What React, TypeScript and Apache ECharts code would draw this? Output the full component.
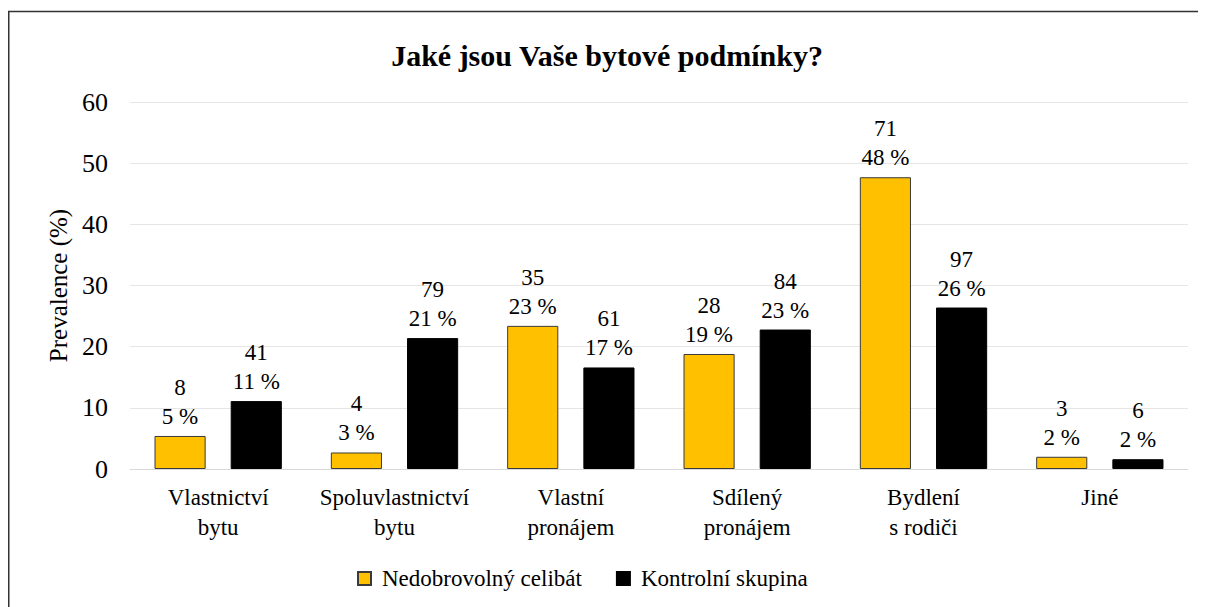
import React, { useEffect, useRef } from "react";
import * as echarts from "echarts";

const categories = [
  "Vlastnictví\nbytu",
  "Spoluvlastnictví\nbytu",
  "Vlastní\npronájem",
  "Sdílený\npronájem",
  "Bydlení\ns rodiči",
  "Jiné",
];
const seriesNames = ["Nedobrovolný celibát", "Kontrolní skupina"];
const celibatPct = [5.4, 2.7, 23.4, 18.8, 47.7, 2.0];
const celibatCount = [8, 4, 35, 28, 71, 3];
const kontrolPct = [11.1, 21.4, 16.6, 22.8, 26.4, 1.6];
const kontrolCount = [41, 79, 61, 84, 97, 6];
const yTicks = { min: 0, max: 60, interval: 10 };

const FONT = "Liberation Serif";

export default function App() {
  const ref = useRef<HTMLDivElement>(null);
  useEffect(() => {
    if (!ref.current) return;
    const chart = echarts.init(ref.current, null, { renderer: "svg" });
    const labelFor = (counts: number[]) => ({
      show: true,
      position: "top",
      distance: 5,
      color: "#000",
      fontFamily: FONT,
      fontSize: 23,
      lineHeight: 29,
      formatter: (p: any) => `${counts[p.dataIndex]}\n${Math.round(p.value)} %`,
    });
    chart.setOption({
      animation: false,
      textStyle: { fontFamily: FONT },
      title: {
        text: "Jaké jsou Vaše bytové podmínky?",
        left: "center",
        top: 27,
        textStyle: { fontFamily: FONT, fontSize: 30, fontWeight: "bold", color: "#000" },
      },
      graphic: [
        { type: "line", shape: { x1: 0, y1: 3.5, x2: 1198, y2: 3.5 }, style: { stroke: "#333", lineWidth: 1.5 } },
        { type: "line", shape: { x1: 0.75, y1: 3.5, x2: 0.75, y2: 599 }, style: { stroke: "#333", lineWidth: 1.5 } },
      ],
      legend: {
        top: 554,
        left: 344,
        itemWidth: 13,
        itemHeight: 13,
        itemGap: 34,
        icon: "rect",
        textStyle: { fontFamily: FONT, fontSize: 23, color: "#000", padding: [0, 0, 0, 6] },
        data: seriesNames,
      },
      grid: { left: 122, right: 18, top: 94, bottom: 138, containLabel: false },
      xAxis: {
        type: "category",
        data: categories,
        axisLine: { lineStyle: { color: "#d9d9d9", width: 1 } },
        axisTick: { show: false },
        axisLabel: { interval: 0, fontFamily: FONT, fontSize: 23, color: "#000", lineHeight: 30, margin: 13 },
      },
      yAxis: {
        type: "value",
        min: yTicks.min,
        max: yTicks.max,
        interval: yTicks.interval,
        name: "Prevalence (%)",
        nameLocation: "middle",
        nameGap: 58,
        nameRotate: 90,
        nameTextStyle: { fontFamily: FONT, fontSize: 25, color: "#000" },
        axisLine: { show: false },
        axisTick: { show: false },
        axisLabel: { fontFamily: FONT, fontSize: 26, color: "#000", margin: 22 },
        splitLine: { lineStyle: { color: "#e6e6e6", width: 1 } },
      },
      series: [
        {
          name: seriesNames[0],
          type: "bar",
          data: celibatPct,
          barWidth: "29%",
          barGap: "49%",
          itemStyle: { color: "#FFC000", borderColor: "#3a3a3a", borderWidth: 1 },
          label: labelFor(celibatCount),
        },
        {
          name: seriesNames[1],
          type: "bar",
          data: kontrolPct,
          barWidth: "29%",
          itemStyle: { color: "#000000", borderColor: "#000", borderWidth: 1 },
          label: labelFor(kontrolCount),
        },
      ],
    });
    return () => chart.dispose();
  }, []);
  return <div ref={ref} style={{ width: 1198, height: 599 }} />;
}
